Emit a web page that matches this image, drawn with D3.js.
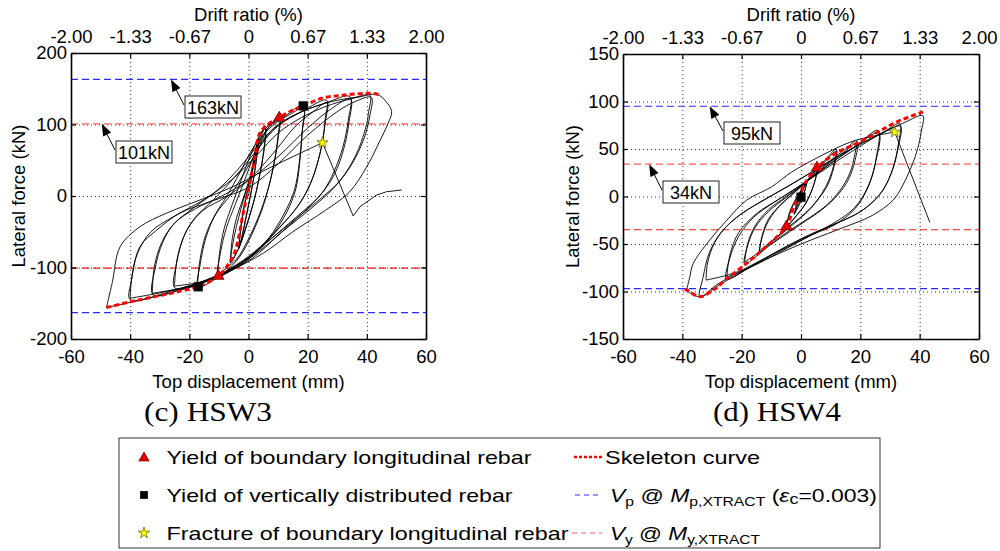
<!DOCTYPE html>
<html>
<head>
<meta charset="utf-8">
<script src="https://cdn.jsdelivr.net/npm/d3@7"></script>
<style>
  html, body { margin: 0; padding: 0; background: #fff; }
  svg { display: block; font-family: "Liberation Sans", Arial, sans-serif; }
</style>
</head>
<body>
<svg id="chart" width="1000" height="551"></svg>
<script>
// ---------- axis ticks ----------
const dispTicks = [-60, -40, -20, 0, 20, 40, 60];
const driftTicks = ["-2.00", "-1.33", "-0.67", "0", "0.67", "1.33", "2.00"];
const hsw3ForceTicks = [-200, -100, 0, 100, 200];
const hsw4ForceTicks = [-150, -100, -50, 0, 50, 100, 150];

// ---------- HSW3: cyclic response [displacement mm, force kN] ----------
const hsw3Cycles = [
  [[0,0],[1,28],[2.2,55],[3.2,78],[2.6,50],[1.2,12],[-0.5,-22],[-2,-52],[-3.2,-72],[-2.4,-40],[-1,-5],[0.8,28],[2.2,58],[3.3,80],[2.6,48],[1,8],[-0.8,-30],[-2.2,-58],[-3.3,-74]],
  [[-3.3,-74],[-2.6,-42],[-1,-5],[1,35],[3,75],[5.6,97],[5.2,65],[3.8,30],[2,-5],[-0.5,-40],[-3,-70],[-6,-93],[-5,-60],[-3,-25],[-1,5],[1.5,40],[3.5,75],[5.8,96],[5.2,62],[3.6,25],[1.6,-10],[-1,-45],[-3.5,-75],[-6.2,-94]],
  [[-6.2,-94],[-5.5,-60],[-4,-30],[-1.5,0],[1.5,38],[4.5,78],[7.5,100],[10.4,110],[10,85],[8.8,50],[7,15],[4.5,-20],[1,-55],[-3,-85],[-7,-103],[-10.3,-112],[-9.5,-80],[-7.5,-45],[-4.5,-12],[-1.5,20],[2,58],[6,92],[10.5,108],[10,80],[8.5,42],[6.5,8],[3.5,-28],[0,-60],[-4,-88],[-10.4,-110]],
  [[-10.4,-110],[-9.8,-80],[-8.2,-45],[-5.5,-12],[-2.5,22],[1,60],[5,92],[11,108],[18.5,126],[18.2,92],[17.5,55],[16,10],[13,-22],[8,-55],[2,-82],[-5,-102],[-11,-116],[-17,-127],[-16.3,-95],[-14.5,-60],[-11.5,-28],[-7,2],[-3,32],[2,70],[8,98],[14,114],[18.6,123],[18.1,88],[17.2,48],[15.5,8],[12,-25],[7,-58],[0,-88],[-7,-107],[-17.2,-124]],
  [[-17.2,-124],[-16.5,-92],[-14.5,-55],[-11,-25],[-6,2],[-1,35],[4,70],[10,98],[18,118],[26.4,134],[26,110],[24.7,69],[21.4,22],[17.4,-10],[11,-42],[4,-72],[-4,-98],[-12,-116],[-24.8,-129],[-24.3,-94],[-20.9,-48],[-15.3,-20],[-7.4,-1],[0,22],[8,58],[16,98],[21,115],[26.6,131],[26,104],[24.3,62],[21,18],[16.5,-15],[10,-46],[2,-78],[-6,-101],[-14,-118],[-25,-126]],
  [[-25,-126],[-24.3,-92],[-22,-58],[-18,-30],[-12,-6],[-5,25],[2,60],[8,92],[16,114],[26,130],[34.3,139],[33.8,108],[32,70],[29,35],[25,5],[18,-25],[10,-55],[1,-88],[-9,-110],[-20,-126],[-32.2,-138.5],[-31.5,-100],[-29,-65],[-25,-38],[-18,-18],[-9,0],[0,22],[10,55],[20,95],[28,122],[34.5,136],[34,104],[32.2,66],[29,30],[24,0],[16,-30],[7,-62],[-2,-92],[-12,-114],[-22,-128],[-32.5,-136]],
  [[-32.5,-136],[-31.8,-98],[-29,-62],[-25,-38],[-18,-15],[-10,10],[-3,40],[4,75],[10,100],[18,118],[28,132],[36,138],[41,141],[40.5,115],[40,101.6],[36.6,60],[31,22],[24,-5],[16,-32],[7,-62],[-3,-95],[-14,-118],[-26,-133],[-40,-145],[-39.5,-117],[-36.7,-71],[-31,-47.6],[-23.2,-24],[-13,-8],[0.5,13],[10,45],[20,85],[30,118],[36,132],[41.5,138],[41,112],[39,80],[35,45],[29,12],[21,-18],[12,-48],[2,-82],[-9,-108],[-22,-128],[-40,-143]],
  [[-40,-143],[-39.5,-115],[-37.5,-80],[-33,-50],[-25,-28],[-15,-5],[-5,25],[3,58],[10,88],[18,110],[28,128],[38,139],[43.5,142],[46.5,132],[48.4,118],[47,100],[44.5,78],[40,41],[34,5],[26,-20],[15,-50],[5,-80],[-6,-104],[-18,-125],[-32,-141],[-48,-156]],
  [[-48,-156],[-46,-120],[-43.4,-71],[-36.7,-43],[-27.7,-24],[-16.4,-5.6],[-5.2,13],[5,35],[15,55],[25,74.5]]
];
const hsw3PostFracture = [[25,74.5],[35.4,-28],[37.7,-15],[43.3,1.4],[46.7,6],[51.8,8.4]];
const hsw3Skeleton = [[-48,-156],[-40,-148],[-32,-141],[-24,-134],[-17,-126.5],[-10.2,-112],[-7.4,-99],[-4.6,-78],[-1.8,-24],[-0.3,5],[0.8,25],[2.2,55],[3.5,85],[5.6,97],[10.4,109.5],[14,118],[18.5,126],[25,137],[32,141],[39.4,143.6],[43,143],[44.5,140]];
const hsw3YieldBoundary = [[10.4,109.5],[-10.2,-112]];
const hsw3YieldVertical = [[18.5,126],[-17,-127]];
const hsw3Fracture = [[25,74.5]];
const hsw3Vp = [163, -163];
const hsw3Vy = [101, -101];

// ---------- HSW4: cyclic response [displacement mm, force kN] ----------
const hsw4Cycles = [
  [[0,0],[1,10],[2,16],[1.2,5],[0,-4],[-1.5,-12],[-2.2,-18],[-1.2,-8],[0,2],[1.5,14],[2.2,18],[1,4],[-0.5,-8],[-2.3,-19]],
  [[-2.3,-19],[-1.5,-8],[0,5],[2,16],[4,25],[5.4,30],[4.8,18],[3.5,5],[1.5,-8],[-1,-18],[-3,-26],[-4.9,-33],[-4,-20],[-2.5,-8],[-0.5,4],[2,16],[4,24],[5.5,29],[4.6,15],[3,2],[1,-10],[-1.5,-20],[-4.9,-32]],
  [[-4.9,-32],[-4,-18],[-2,-4],[1,10],[4,24],[8,38],[11.9,50],[11.2,35],[9.5,18],[7,3],[3.5,-12],[-1,-25],[-6,-38],[-10,-48],[-13.9,-58.8],[-13,-42],[-11,-26],[-7.5,-11],[-3,2],[2,16],[7,33],[12,48],[11,30],[9,12],[6,-2],[2,-16],[-3,-29],[-8,-42],[-14,-57]],
  [[-14,-57],[-13,-40],[-11,-24],[-7,-9],[-2,5],[4,22],[10,38],[15,50],[18.7,59],[18,42],[16.5,25],[13.5,8],[9,-8],[3,-22],[-4,-36],[-11,-52],[-19,-71],[-18,-52],[-15.5,-33],[-11,-16],[-5,-1],[2,16],[9,34],[15,48],[19,57],[18.2,38],[16,18],[12.5,2],[7,-14],[0,-29],[-8,-46],[-19,-69]],
  [[-19,-69],[-18,-50],[-15.5,-31],[-11,-14],[-5,0],[2,16],[10,35],[18,52],[26,69.6],[25.4,41.5],[23.1,13.4],[18.7,-11],[11.9,-28.8],[4,-40],[-5,-54],[-15,-70],[-25.1,-86.8],[-24,-65],[-21,-42],[-16,-22],[-9,-6],[-1,10],[8,30],[17,50],[26.2,67],[25.3,38],[22.5,10],[18,-12],[11,-28],[2,-43],[-8,-60],[-18,-76],[-25,-85]],
  [[-25,-85],[-24,-62],[-21,-38],[-15,-18],[-7,-2],[2,16],[12,37],[22,57],[28,68],[33.3,76.7],[32.8,55],[31,30],[27.5,6],[21,-14],[12,-28],[3,-40],[-7,-56],[-18,-76],[-27,-92],[-34.1,-105.5],[-33,-85],[-31,-60],[-27,-38],[-20,-18],[-12,-3],[-2,15],[10,38],[20,55],[27,66],[33.5,74],[32.8,52],[30.5,25],[26.5,2],[20,-16],[10,-31],[0,-45],[-11,-63],[-22,-80],[-32,-88]],
  [[-32,-88],[-31.5,-70],[-29,-48],[-24,-28],[-16,-10],[-6,8],[6,30],[18,52],[28,68],[35,78],[41.1,85],[40.5,68],[40,59],[38.5,42],[36.6,27],[34,10],[31,-4],[24,-20],[14,-33],[4,-45],[-6,-58],[-17,-74],[-28,-92],[-34,-105.5],[-38.6,-99]],
  [[-38.6,-99],[-37.5,-85],[-36.4,-71],[-30.8,-46],[-25,-25],[-18.4,-4],[-10,10],[-3.2,25.6],[5,40],[16.4,57],[25,64],[31.6,67.8]]
];
const hsw4PostFracture = [[31.6,67.8],[43.4,-27]];
const hsw4Skeleton = [[-39.2,-97.4],[-38.1,-99],[-34.1,-105.5],[-29.1,-97.4],[-25.1,-86.8],[-19,-72],[-13.9,-58.8],[-8.9,-44.6],[-4.9,-31.6],[-2.1,-7.7],[0,5],[1.2,13.4],[5.4,30.3],[12,46],[19.8,57.3],[26,68],[32.2,78.4],[41.1,89]];
const hsw4YieldBoundary = [[5.4,30.3],[-4.9,-31.6]];
const hsw4YieldVertical = [[0,-0.7]];
const hsw4Fracture = [[31.6,67.8]];
const hsw4Vp = [95, -97];
const hsw4Vy = [34, -35];

// ---------- layout ----------
const svg = d3.select("#chart");
const TICK_FONT = 18.5;
const plain = d => String(d);   // hyphen-minus, as printed on the axes

const panels = [
  { left: 71, right: 426, top: 53, bottom: 339, forceDomain: [-200, 200], forceTicks: hsw3ForceTicks,
    cycles: hsw3Cycles, post: hsw3PostFracture, skeleton: hsw3Skeleton,
    yb: hsw3YieldBoundary, yv: hsw3YieldVertical, fr: hsw3Fracture, vp: hsw3Vp, vy: hsw3Vy,
    caption: "(c) HSW3", captionX: 208, ylabelX: 18,
    notes: [ { value: hsw3Vp[0], tipMm: -26.2, bx: 185, by: 96 },
             { value: hsw3Vy[0], tipMm: -49.6, bx: 116, by: 141 } ] },
  { left: 623, right: 979, top: 54, bottom: 339, forceDomain: [-150, 150], forceTicks: hsw4ForceTicks,
    cycles: hsw4Cycles, post: hsw4PostFracture, skeleton: hsw4Skeleton,
    yb: hsw4YieldBoundary, yv: hsw4YieldVertical, fr: hsw4Fracture, vp: hsw4Vp, vy: hsw4Vy,
    caption: "(d) HSW4", captionX: 777, ylabelX: 572,
    notes: [ { value: hsw4Vp[0], tipMm: -30.8, bx: 724, by: 122 },
             { value: hsw4Vy[0], tipMm: -51.2, bx: 663, by: 181 } ] }
];

const BLUE = "#2b2bff";
const RED_LIGHT = "#ff5c5c";
const RED = "#ee1c1c";

function drawPanel(p) {
  const x = d3.scaleLinear().domain([-60, 60]).range([p.left, p.right]);
  const y = d3.scaleLinear().domain(p.forceDomain).range([p.bottom, p.top]);
  const W = p.right - p.left, H = p.bottom - p.top;
  const g = svg.append("g");

  // dotted grid
  const gridX = g.append("g").attr("transform", `translate(0,${p.bottom})`)
    .call(d3.axisBottom(x).tickValues(dispTicks.slice(1, -1)).tickSize(-H).tickFormat(""));
  const gridY = g.append("g").attr("transform", `translate(${p.left},0)`)
    .call(d3.axisLeft(y).tickValues(p.forceTicks.slice(1, -1)).tickSize(-W).tickFormat(""));
  [gridX, gridY].forEach(s => {
    s.select(".domain").remove();
    s.selectAll("line").attr("stroke", "#333").attr("stroke-width", 1).attr("stroke-dasharray", "1,3");
  });

  // reference strengths
  const refs = [
    { v: p.vp[0], c: BLUE }, { v: p.vp[1], c: BLUE },
    { v: p.vy[0], c: RED_LIGHT }, { v: p.vy[1], c: RED }
  ];
  g.selectAll(".ref").data(refs).join("line")
    .attr("x1", p.left).attr("x2", p.right)
    .attr("y1", d => y(d.v)).attr("y2", d => y(d.v))
    .attr("stroke", d => d.c).attr("stroke-width", 1.2).attr("stroke-dasharray", "7,4");

  // hysteresis loops
  const curve = d3.line().x(d => x(d[0])).y(d => y(d[1])).curve(d3.curveCatmullRom.alpha(0.5));
  const straight = d3.line().x(d => x(d[0])).y(d => y(d[1]));
  g.append("g").selectAll("path").data(p.cycles).join("path")
    .attr("d", curve).attr("fill", "none").attr("stroke", "#000").attr("stroke-width", 0.9);
  g.append("path").attr("d", straight(p.post)).attr("fill", "none").attr("stroke", "#000").attr("stroke-width", 0.9);

  // skeleton curve
  g.append("path").attr("d", curve(p.skeleton)).attr("fill", "none")
    .attr("stroke", "#ff0000").attr("stroke-width", 3).attr("stroke-dasharray", "5,3");

  // markers
  g.selectAll(".tri").data(p.yb).join("path")
    .attr("transform", d => `translate(${x(d[0])},${y(d[1])})`)
    .attr("d", d3.symbol(d3.symbolTriangle, 55)).attr("fill", "#e60000").attr("stroke", "#7a0000").attr("stroke-width", 0.8);
  g.selectAll(".sq").data(p.yv).join("path")
    .attr("transform", d => `translate(${x(d[0])},${y(d[1])})`)
    .attr("d", d3.symbol(d3.symbolSquare, 85)).attr("fill", "#000");
  g.selectAll(".star").data(p.fr).join("path")
    .attr("transform", d => `translate(${x(d[0])},${y(d[1])})`)
    .attr("d", d3.symbol(d3.symbolStar, 40)).attr("fill", "#ffff00").attr("stroke", "#6b6b00").attr("stroke-width", 0.8);

  // frame + axes with inward ticks
  const axB = g.append("g").attr("transform", `translate(0,${p.bottom})`)
    .call(d3.axisBottom(x).tickValues(dispTicks).tickFormat(plain).tickSizeInner(-5).tickSizeOuter(0).tickPadding(11));
  const axT = g.append("g").attr("transform", `translate(0,${p.top})`)
    .call(d3.axisTop(x).tickValues(dispTicks).tickFormat((d, i) => driftTicks[i]).tickSizeInner(-5).tickSizeOuter(0).tickPadding(10));
  const axL = g.append("g").attr("transform", `translate(${p.left},0)`)
    .call(d3.axisLeft(y).tickValues(p.forceTicks).tickFormat(plain).tickSizeInner(-5).tickSizeOuter(0).tickPadding(4));
  const axR = g.append("g").attr("transform", `translate(${p.right},0)`)
    .call(d3.axisRight(y).tickValues(p.forceTicks).tickSizeInner(-5).tickSizeOuter(0).tickFormat(""));
  [axB, axT, axL, axR].forEach(a => {
    a.select(".domain").attr("stroke", "#000").attr("stroke-width", 1.6);
    a.selectAll(".tick line").attr("stroke", "#000").attr("stroke-width", 1.2);
    a.selectAll("text").attr("font-size", TICK_FONT).attr("font-family", "Liberation Sans, Arial, sans-serif").attr("fill", "#000");
  });

  // axis titles
  const cx = (p.left + p.right) / 2;
  g.append("text").attr("x", cx).attr("y", 21).attr("text-anchor", "middle")
    .attr("font-size", 18.5).text("Drift ratio (%)");
  g.append("text").attr("x", cx).attr("y", 388).attr("text-anchor", "middle")
    .attr("font-size", 18.5).text("Top displacement (mm)");
  g.append("text").attr("transform", `translate(${p.ylabelX + 6.5},${(p.top + p.bottom) / 2}) rotate(-90)`)
    .attr("text-anchor", "middle").attr("font-size", 18.5).text("Lateral force (kN)");

  // caption
  g.append("text").attr("x", p.captionX).attr("y", 421).attr("text-anchor", "middle")
    .attr("font-family", "Liberation Serif, Times New Roman, serif").attr("font-size", 27)
    .attr("textLength", 128).attr("lengthAdjust", "spacingAndGlyphs").text(p.caption);

  // value call-outs
  p.notes.forEach(n => {
    const tx = x(n.tipMm), ty = y(n.value);
    const sx = n.bx - 1, sy = n.by + 9;
    const ang = Math.atan2(ty - sy, tx - sx);
    const hl = 12, hw = 4.5;
    const bx0 = tx - hl * Math.cos(ang), by0 = ty - hl * Math.sin(ang);
    g.append("line").attr("x1", sx).attr("y1", sy).attr("x2", bx0).attr("y2", by0)
      .attr("stroke", "#000").attr("stroke-width", 1);
    g.append("polygon").attr("points", [
      [tx, ty],
      [bx0 + hw * Math.sin(ang), by0 - hw * Math.cos(ang)],
      [bx0 - hw * Math.sin(ang), by0 + hw * Math.cos(ang)]
    ].map(q => q.join(",")).join(" ")).attr("fill", "#000");
    g.append("rect").attr("x", n.bx).attr("y", n.by).attr("width", 56).attr("height", 22)
      .attr("fill", "#fff").attr("stroke", "#222").attr("stroke-width", 1);
    g.append("text").attr("x", n.bx + 28).attr("y", n.by + 17.5).attr("text-anchor", "middle")
      .attr("font-size", 18).text(`${n.value}kN`);
  });
}

panels.forEach(drawPanel);

// ---------- legend ----------
const lg = svg.append("g");
lg.append("rect").attr("x", 119).attr("y", 438).attr("width", 761).attr("height", 110)
  .attr("fill", "#fff").attr("stroke", "#333").attr("stroke-width", 1);

const rows = [457, 495, 533];
const LFONT = 19;
lg.append("path").attr("transform", `translate(144,${rows[0] + 1})`)
  .attr("d", d3.symbol(d3.symbolTriangle, 45)).attr("fill", "#e60000").attr("stroke", "#7a0000").attr("stroke-width", 0.8);
lg.append("path").attr("transform", `translate(144,${rows[1]})`)
  .attr("d", d3.symbol(d3.symbolSquare, 60)).attr("fill", "#000");
lg.append("path").attr("transform", `translate(144,${rows[2]})`)
  .attr("d", d3.symbol(d3.symbolStar, 40)).attr("fill", "#ffff00").attr("stroke", "#6b6b00").attr("stroke-width", 0.8);

const leftItems = [
  { t: "Yield of boundary longitudinal rebar", w: 365 },
  { t: "Yield of vertically distributed rebar", w: 346 },
  { t: "Fracture of boundary longitudinal rebar", w: 402 }
];
leftItems.forEach((d, i) => {
  lg.append("text").attr("x", 166.5).attr("y", rows[i] + 7).attr("font-size", LFONT)
    .attr("textLength", d.w).attr("lengthAdjust", "spacingAndGlyphs").text(d.t);
});

// line samples
lg.append("line").attr("x1", 574).attr("x2", 602).attr("y1", rows[0]).attr("y2", rows[0])
  .attr("stroke", "#ff0000").attr("stroke-width", 2.5).attr("stroke-dasharray", "3,2");
lg.append("line").attr("x1", 575).attr("x2", 602).attr("y1", rows[1]).attr("y2", rows[1])
  .attr("stroke", BLUE).attr("stroke-width", 1).attr("stroke-dasharray", "5,4");
lg.append("line").attr("x1", 572).attr("x2", 602).attr("y1", rows[2]).attr("y2", rows[2])
  .attr("stroke", RED_LIGHT).attr("stroke-width", 1).attr("stroke-dasharray", "5,4");

lg.append("text").attr("x", 605).attr("y", rows[0] + 7).attr("font-size", LFONT)
  .attr("textLength", 155).attr("lengthAdjust", "spacingAndGlyphs").text("Skeleton curve");

const vpText = lg.append("text").attr("x", 610).attr("y", rows[1] + 7).attr("font-size", LFONT)
  .attr("textLength", 267).attr("lengthAdjust", "spacingAndGlyphs");
vpText.append("tspan").attr("font-style", "italic").text("V");
vpText.append("tspan").attr("font-size", 13).attr("dy", 4).text("p");
vpText.append("tspan").attr("dy", -4).text(" @ ");
vpText.append("tspan").attr("font-style", "italic").text("M");
vpText.append("tspan").attr("font-size", 13).attr("dy", 4).text("p,XTRACT");
vpText.append("tspan").attr("dy", -4).text(" (");
vpText.append("tspan").attr("font-style", "italic").text("ε");
vpText.append("tspan").attr("font-size", 15).attr("dy", 2).text("c");
vpText.append("tspan").attr("dy", -2).text("=0.003)");

const vyText = lg.append("text").attr("x", 610).attr("y", rows[2] + 7).attr("font-size", LFONT)
  .attr("textLength", 150).attr("lengthAdjust", "spacingAndGlyphs");
vyText.append("tspan").attr("font-style", "italic").text("V");
vyText.append("tspan").attr("font-size", 13).attr("dy", 4).text("y");
vyText.append("tspan").attr("dy", -4).text(" @ ");
vyText.append("tspan").attr("font-style", "italic").text("M");
vyText.append("tspan").attr("font-size", 13).attr("dy", 4).text("y,XTRACT");
</script>
</body>
</html>
